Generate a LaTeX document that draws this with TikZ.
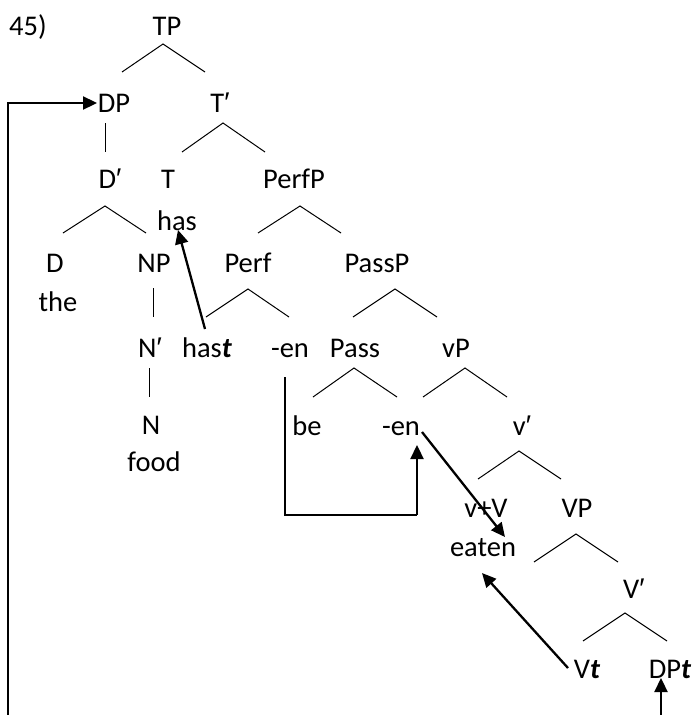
\documentclass[tikz,border=0pt]{standalone}
\usepackage{fontspec}
\setmainfont{Carlito}
\newfontfamily\primefont{Liberation Sans}
\newcommand{\pr}{{\primefont ′}}
\usetikzlibrary{arrows.meta}
\begin{document}
\begin{tikzpicture}[x=1pt,y=-1pt,
  lbl/.style={anchor=base,inner sep=0pt,font=\fontsize{28.5}{34}\selectfont},
  branch/.style={line width=1pt},
  guide/.style={line width=1.3pt},
  mv/.style={line width=2.3pt,-{Triangle[length=14pt,width=13pt]}}]
\useasboundingbox (0,0) rectangle (694,715);

% example number
\node[lbl,anchor=base west] (num) at (9,35) {45)};

% labels, placed on their baselines
\node[lbl] (TP)    at (167,35)  {TP};
\node[lbl] (DP)    at (114,112) {DP};
\node[lbl] (Tbar)  at (220,112) {T\pr};
\node[lbl] (Dbar)  at (110,188) {D\pr};
\node[lbl] (T)     at (168,188) {T};
\node[lbl] (PerfP) at (294,188) {PerfP};
\node[lbl] (has)   at (177,230) {has};
\node[lbl] (D)     at (55,272)  {D};
\node[lbl] (NP)    at (154,272) {NP};
\node[lbl] (Perf)  at (248,272) {Perf};
\node[lbl] (PassP) at (377,272) {PassP};
\node[lbl] (the)   at (58,311)  {the};
\node[lbl] (Nbar)  at (150,357) {N\pr};
\node[lbl] (hast)  at (207,357) {has\textbf{\textit{t}}};
\node[lbl] (enA)   at (290,357) {-en};
\node[lbl] (Pass)  at (355,357) {Pass};
\node[lbl] (vP)    at (456,357) {vP};
\node[lbl] (N)     at (151,434) {N};
\node[lbl] (be)    at (307,435) {be};
\node[lbl] (enB)   at (401,435) {-en};
\node[lbl] (vbar)  at (522,435) {v\pr};
\node[lbl] (food)  at (154,471) {food};
\node[lbl] (vV)    at (486,517) {v+V};
\node[lbl] (VP)    at (577,517) {VP};
\node[lbl] (eaten) at (483,556) {eaten};
\node[lbl] (Vbar)  at (634,598) {V\pr};
\node[lbl] (Vt)    at (587,678) {V\textbf{\textit{t}}};
\node[lbl] (DPt)   at (670,678) {DP\textbf{\textit{t}}};

% tree branches
\draw[branch] (122,72) -- (163,44) -- (205,72);
\draw[branch] (105,123) -- (105,152);
\draw[branch] (182,152) -- (223,123) -- (265,152);
\draw[branch] (63,233) -- (105,206) -- (146,233);
\draw[branch] (258,233) -- (300,206) -- (341,233);
\draw[branch] (153,288) -- (153,317);
\draw[branch] (206,317) -- (248,289) -- (289,317);
\draw[branch] (353,317) -- (395,289) -- (437,317);
\draw[branch] (149,368) -- (149,397);
\draw[branch] (313,397) -- (354,368) -- (397,397);
\draw[branch] (423,397) -- (465,368) -- (507,397);
\draw[branch] (478,479) -- (519,451) -- (561,479);
\draw[branch] (534,562) -- (576,534) -- (618,562);
\draw[branch] (583,641) -- (625,613) -- (667,641);

% movement arrows
\coordinate (hasT) at (205,329);
\coordinate (hasH) at (178,230);
\draw[mv] (hasT) -- (hasH);

\coordinate (loopTop) at (285,377);
\coordinate (loopL) at (285,515);
\coordinate (loopR) at (417,515);
\coordinate (loopH) at (417,445);
\draw[guide] (loopTop) -- (loopL) -- (loopR);
\draw[mv] (loopR) -- (loopH);

\coordinate (enT) at (422,432);
\coordinate (eatH1) at (505,537);
\draw[mv] (enT) -- (eatH1);

\coordinate (VtT) at (568,668);
\coordinate (eatH2) at (482,573);
\draw[mv] (VtT) -- (eatH2);

\coordinate (dpBot) at (661,715);
\coordinate (dpH) at (661,678);
\draw[mv] (dpBot) -- (dpH);

\coordinate (sBot) at (8,715);
\coordinate (sTop) at (8,103);
\coordinate (sH) at (97,103);
\draw[guide] (sBot) -- (sTop);
\draw[mv] ([xshift=-0.65pt]sTop) -- (sH);
\end{tikzpicture}
\end{document}
